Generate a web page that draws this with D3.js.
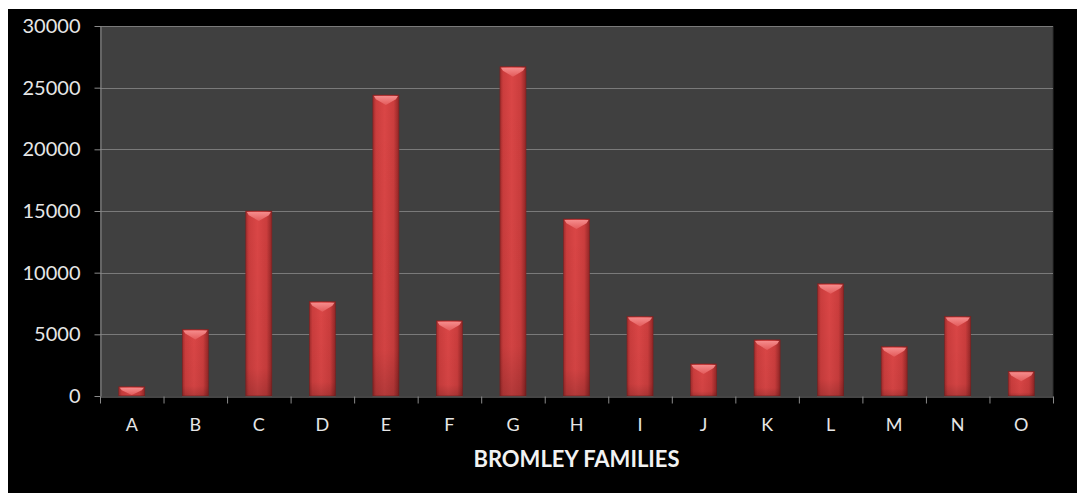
<!DOCTYPE html>
<html>
<head>
<meta charset="utf-8">
<script src="https://cdn.jsdelivr.net/npm/d3@7"></script>
<style>
  html, body { margin: 0; padding: 0; background: #fff; }
  svg { display: block; }
</style>
</head>
<body>
<div id="chart"></div>
<script>
// Bromley families - column chart

const families = ['A','B','C','D','E','F','G','H','I','J','K','L','M','N','O'];
const counts   = [750, 5400, 15000, 7650, 24400, 6100, 26700, 14350, 6450, 2600, 4550, 9100, 4000, 6450, 2000];
const yTicks   = [0, 5000, 10000, 15000, 20000, 25000, 30000];
const xTitle   = 'BROMLEY FAMILIES';

const width = 1077;
const height = 493;
const plot = { left: 100, top: 26, right: 1053, bottom: 396 };

const svg = d3.select('#chart').append('svg')
  .attr('width', width)
  .attr('height', height)
  .attr('viewBox', [0, 0, width, height]);

const defs = svg.append('defs');

// frame: white page edge + black chart area
svg.append('rect').attr('width', width).attr('height', height).attr('fill', '#fff');
svg.append('rect').attr('x', 8).attr('y', 9).attr('width', width - 8).attr('height', height - 9).attr('fill', '#000');

// plot area
svg.append('rect')
  .attr('x', plot.left).attr('y', plot.top)
  .attr('width', plot.right - plot.left).attr('height', plot.bottom - plot.top)
  .attr('fill', '#404040');
svg.append('line')
  .attr('x1', plot.right).attr('x2', plot.right)
  .attr('y1', plot.top).attr('y2', plot.bottom)
  .attr('stroke', '#2e2e2e').attr('stroke-width', 1);

// scales
const x = d3.scaleBand()
  .domain(families)
  .range([plot.left, plot.right])
  .paddingInner(0.59)
  .paddingOuter(0.295);

const xEdges = d3.scaleLinear()
  .domain([0, families.length])
  .range([plot.left, plot.right]);

const y = d3.scaleLinear()
  .domain([0, 30000])
  .range([plot.bottom, plot.top]);

// gridlines
svg.append('g')
  .selectAll('line')
  .data(yTicks.filter(d => d > 0))
  .join('line')
  .attr('x1', plot.left).attr('x2', plot.right)
  .attr('y1', d => Math.round(y(d)) + 0.5).attr('y2', d => Math.round(y(d)) + 0.5)
  .attr('stroke', '#7a7a7a')
  .attr('stroke-width', 1);

// y axis
const yAxis = svg.append('g')
  .attr('transform', `translate(${plot.left + 0.5},0)`)
  .call(d3.axisLeft(y).tickValues(yTicks).tickSize(6).tickSizeOuter(0).tickPadding(14).tickFormat(d3.format('d')));
yAxis.select('.domain').attr('stroke', '#8a8a8a');
yAxis.selectAll('.tick line').attr('stroke', '#8a8a8a');
yAxis.selectAll('text')
  .attr('fill', '#e6e6e6')
  .style('font-family', 'Lato, "Open Sans", sans-serif')
  .style('font-size', '20px');

// bar gradients
const grad = defs.append('linearGradient').attr('id', 'barGrad').attr('x1', 0).attr('x2', 1).attr('y1', 0).attr('y2', 0);
grad.append('stop').attr('offset', '0%').attr('stop-color', '#a02c2c');
grad.append('stop').attr('offset', '12%').attr('stop-color', '#cb3d3d');
grad.append('stop').attr('offset', '45%').attr('stop-color', '#da4646');
grad.append('stop').attr('offset', '80%').attr('stop-color', '#cb3d3d');
grad.append('stop').attr('offset', '100%').attr('stop-color', '#922626');

const vgrad = defs.append('linearGradient').attr('id', 'barShade').attr('x1', 0).attr('x2', 0).attr('y1', 0).attr('y2', 1);
vgrad.append('stop').attr('offset', '0%').attr('stop-color', '#000').attr('stop-opacity', 0);
vgrad.append('stop').attr('offset', '85%').attr('stop-color', '#000').attr('stop-opacity', 0.04);
vgrad.append('stop').attr('offset', '100%').attr('stop-color', '#000').attr('stop-opacity', 0.18);

const bevelGrad = defs.append('linearGradient').attr('id', 'bevelGrad').attr('x1', 0).attr('x2', 0).attr('y1', 0).attr('y2', 1);
bevelGrad.append('stop').attr('offset', '0%').attr('stop-color', '#f79090');
bevelGrad.append('stop').attr('offset', '100%').attr('stop-color', '#e45c5c');

// bars
const bars = svg.append('g').attr('id', 'bars')
  .selectAll('g')
  .data(families.map((f, i) => ({ family: f, value: counts[i] })))
  .join('g');

bars.append('rect')
  .attr('x', d => x(d.family))
  .attr('y', d => y(d.value))
  .attr('width', x.bandwidth())
  .attr('height', d => y(0) - y(d.value))
  .attr('fill', 'url(#barGrad)')
  .attr('stroke', '#7e2020')
  .attr('stroke-width', 0.6);

bars.append('rect')
  .attr('x', d => x(d.family))
  .attr('y', d => y(d.value))
  .attr('width', x.bandwidth())
  .attr('height', d => y(0) - y(d.value))
  .attr('fill', 'url(#barShade)');

// top bevel
const bevelH = 9;
bars.append('path')
  .attr('d', d => {
    const x0 = x(d.family) + 1, x1 = x(d.family) + x.bandwidth() - 1;
    const t = y(d.value) + 1;
    const h = Math.min(bevelH, (y(0) - y(d.value)) - 2);
    const mid = (x0 + x1) / 2;
    return `M${x0},${t}L${x1},${t}L${x1 - 2},${t + h * 0.35}L${mid},${t + h}L${x0 + 2},${t + h * 0.35}Z`;
  })
  .attr('fill', 'url(#bevelGrad)')
  .attr('opacity', 0.95);

// x axis
const xAxisTicks = svg.append('g')
  .attr('transform', `translate(0,${plot.bottom + 0.5})`)
  .call(d3.axisBottom(xEdges).tickValues(d3.range(families.length + 1)).tickSize(7).tickSizeOuter(0).tickFormat(''));
xAxisTicks.select('.domain').attr('stroke', '#8a8a8a');
xAxisTicks.selectAll('.tick line').attr('stroke', '#8a8a8a');

const xAxisLabels = svg.append('g')
  .attr('transform', `translate(0,${plot.bottom})`)
  .call(d3.axisBottom(x).tickSize(0).tickPadding(22));
xAxisLabels.select('.domain').remove();
xAxisLabels.selectAll('text')
  .attr('fill', '#e6e6e6')
  .style('font-family', 'Lato, "Open Sans", sans-serif')
  .style('font-size', '18px');

// axis title
svg.append('text')
  .attr('x', (plot.left + plot.right) / 2)
  .attr('y', 467)
  .attr('text-anchor', 'middle')
  .attr('fill', '#f2f2f2')
  .style('font-family', 'Lato, "Open Sans", sans-serif')
  .style('font-weight', 'bold')
  .style('font-size', '22px')
  .text(xTitle);
</script>
</body>
</html>
